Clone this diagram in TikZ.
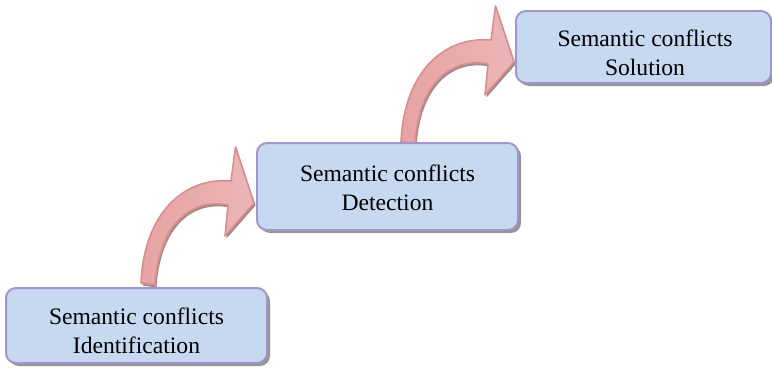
\documentclass[tikz,border=0pt]{standalone}
\usepackage{fontspec}
\setmainfont{Liberation Serif}
\usetikzlibrary{shadows}
\definecolor{boxfill}{HTML}{C6D9F1}
\definecolor{boxline}{HTML}{A395C9}
\definecolor{boxshadow}{HTML}{959595}
\definecolor{arrline}{HTML}{D98E8E}
\definecolor{arrdark}{HTML}{E6A3A3}
\definecolor{arrlight}{HTML}{F6E0E0}
\definecolor{arrhead}{HTML}{ECB6B6}
\definecolor{arrshadow}{HTML}{A38888}
\pgfdeclarelayer{background}
\pgfsetlayers{background,main}
\tikzset{
  stepbox/.style={draw=boxline, line width=1pt, fill=boxfill, rounded corners=5pt,
    inner sep=0pt,
    drop shadow={shadow xshift=1.5pt, shadow yshift=-1.5pt, fill=boxshadow, opacity=1}},
  boxtext/.style={align=center, inner sep=0pt, font=\fontsize{11.8}{14.5}\selectfont},
  arrowshape/.style={insert path={
    (-113,80) .. controls (-110,10) and (-70,-26) .. (-23,-22)
    -- (-18.5,-56) -- (0,0) -- (-29,33) -- (-26,2)
    .. controls (-62,-5) and (-95,20) .. (-99,82) -- cycle}},
  pics/bentarrow/.style={code={
    \fill[arrshadow, shift={(1.5,2.5)}, arrowshape];
    \path[left color=arrdark, middle color=arrlight, right color=arrhead,
      draw=arrline, line width=0.8pt, line join=round, arrowshape];
  }}
}
\begin{document}
\begin{tikzpicture}[x=0.5pt, y=-0.5pt]
\useasboundingbox (0,0) rectangle (772,370);
\node[stepbox, minimum width=130.5pt, minimum height=37.5pt] (b1) at (136.5,325.5) {};
\node[boxtext] (b1t) at ([shift={(0,5)}]b1.center) {Semantic conflicts\\Identification};
\node[stepbox, minimum width=130.5pt, minimum height=43.5pt] (b2) at (387.5,186.5) {};
\node[boxtext] (b2t) at ([shift={(0,1)}]b2.center) {Semantic conflicts\\Detection};
\node[stepbox, minimum width=127.5pt, minimum height=36pt] (b3) at (643.5,47) {};
\node[boxtext] (b3t) at ([shift={(1.5,6)}]b3.center) {Semantic conflicts\\Solution};
\begin{pgfonlayer}{background}
  \coordinate (t1) at ([shift={(-2,16.5)}]b2.west);
  \coordinate (t2) at ([shift={(-1,15)}]b3.west);
  \pic at (t1) {bentarrow};
  \pic at (t2) {bentarrow};
\end{pgfonlayer}
\end{tikzpicture}
\end{document}
